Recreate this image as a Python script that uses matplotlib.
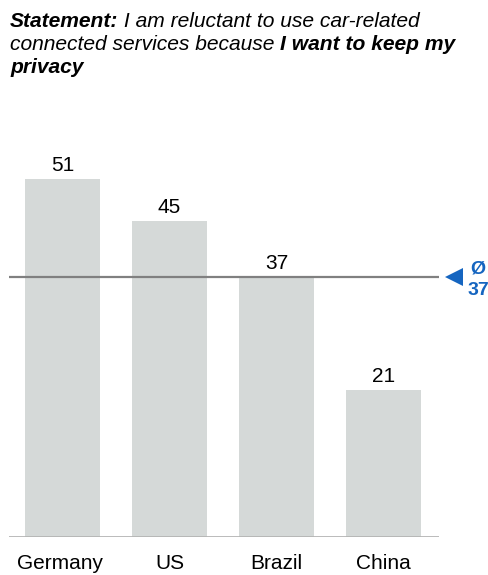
import matplotlib.pyplot as plt
from matplotlib.transforms import blended_transform_factory

countries = ["Germany", "US", "Brazil", "China"]
values = [51, 45, 37, 21]
avg_value = 37

title_lines = [
    [("Statement:", "bold"), (" I am reluctant to use car-related", "normal")],
    [("connected services because ", "normal"), ("I want to keep my", "bold")],
    [("privacy", "bold")],
]

bar_color = "#d5d9d8"
avg_color = "#808080"
blue = "#1565c0"
plt.rcParams["font.family"] = ["Liberation Sans", "DejaVu Sans"]

W, H = 489, 575
fig = plt.figure(figsize=(W / 100, H / 100), dpi=100)
ax = fig.add_axes([9 / W, 38 / H, 430 / W, 435 / H])

x = list(range(len(countries)))
ax.bar(x, values, width=0.70, color=bar_color, zorder=1)
ax.set_xlim(-0.5, 3.52)
ax.set_ylim(0, 62)

for xi, v in zip(x, values):
    ax.text(xi, v + 1.15, str(v), ha="center", va="baseline", fontsize=15)
for xi, c in zip(x, countries):
    ax.text(xi - (0.02 if xi == 0 else 0), -2.4, c, ha="center", va="top", fontsize=15)

ax.axhline(0, color="#b4b4b4", lw=2, zorder=3)
ax.axhline(avg_value, color=avg_color, lw=1.6, zorder=3)

# average marker to the right of the plot
tr = blended_transform_factory(ax.transAxes, ax.transData)
ax.plot([1.034], [avg_value], marker="<", markersize=13, color=blue,
        markeredgewidth=0, transform=tr, clip_on=False)
ax.text(1.091, avg_value + 0.5, "Ø", color=blue, fontsize=14, fontweight="bold",
        ha="center", va="baseline", transform=tr)
ax.text(1.091, avg_value - 0.6, "37", color=blue, fontsize=14, fontweight="bold",
        ha="center", va="top", transform=tr)

for s in ax.spines.values():
    s.set_visible(False)
ax.set_xticks([])
ax.set_yticks([])

# title, drawn piece by piece so bold and normal italic can share a line
fig.canvas.draw()
renderer = fig.canvas.get_renderer()
baselines = [27, 50, 73]
for line, yb in zip(title_lines, baselines):
    xpos = 10
    for txt, weight in line:
        t = fig.text(xpos / W, 1 - yb / H, txt, fontsize=15.1, style="italic",
                     fontweight=weight, ha="left", va="baseline")
        bb = t.get_window_extent(renderer=renderer)
        xpos += bb.width

fig.savefig("out.png", dpi=100)
